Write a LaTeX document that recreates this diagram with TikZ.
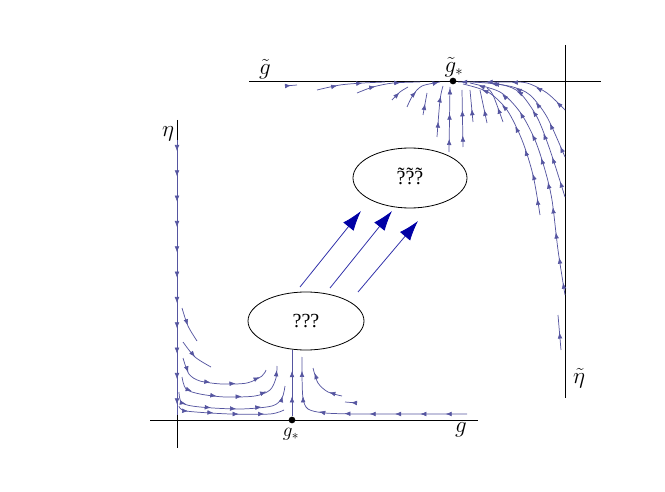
\documentclass[tikz,border=0pt]{standalone}
\usepackage{fontspec}
\setmainfont{Liberation Serif}
\usetikzlibrary{arrows.meta,decorations.markings,shapes.geometric}
\definecolor{flowc}{RGB}{85,85,160}
\definecolor{bigline}{RGB}{50,50,170}
\definecolor{bigtip}{RGB}{0,0,165}
\tikzset{
  axisline/.style={draw=black, line width=0.7pt},
  flowline/.style={draw=flowc, line width=0.55pt},
  flowarr/.style={decorate,
    decoration={markings, mark=between positions #1 and 1 step 19pt with {\arrow[flowc]{Latex[length=4.5pt,width=3.5pt]}}}},
  oval/.style={ellipse, draw=black, line width=0.6pt, fill=white, font=\fontsize{15}{17}\selectfont},
  bigarrow/.style={draw=bigline, line width=0.6pt, -{Latex[length=15pt,width=10pt,color=bigtip]}},
  lab/.style={font=\fontsize{16}{18}\selectfont, inner sep=0pt},
  slab/.style={font=\fontsize{14.5}{16}\selectfont, inner sep=0pt},
  dot/.style={circle, fill=black, inner sep=0pt, minimum size=5pt}
}
\newcommand\flowcurve[2]{\draw[flowline] plot[smooth] coordinates {#2};\path[flowarr=#1] plot coordinates {#2};}
\newcommand\tildeq{\ooalign{?\cr\hidewidth\raisebox{0.14em}{\char"02DC}\hidewidth\cr}}
\begin{document}
\begin{tikzpicture}[x=0.75pt,y=-0.75pt]
\useasboundingbox (0,0) rectangle (665,492);

% ---------- lower-left axes ----------
\coordinate (eta0) at (177,120);
\coordinate (eta1) at (177,448);
\coordinate (gl) at (150,420);
\coordinate (gr) at (478,420);
\draw[axisline] (eta0) -- (eta1);
\draw[axisline] (gl) -- (gr);
\node[dot] (gstar) at (292,420) {};
\node[lab] (etalab) at (168,134) {$\eta$};
\node[lab] (glab) at (461,430) {$g$};
\node[slab] (gstarlab) at (291,434) {$g_{*}$};

% ---------- upper-right axes ----------
\coordinate (tgl) at (249,81);
\coordinate (tgr) at (601,81);
\coordinate (teta0) at (565,45);
\coordinate (teta1) at (565,398);
\draw[axisline] (tgl) -- (tgr);
\draw[axisline] (teta0) -- (teta1);
\node[dot] (tgstar) at (453,81) {};
\node[lab] (tglab) at (265,69) {$\tilde g$};
\node[lab] (tgstarlab) at (454,67) {$\tilde g_{*}$};
\node[lab] (tetalab) at (579,378) {$\tilde\eta$};

% ---------- lower-left flows ----------
\draw[flowline] (177,140) -- (177,415);
\path[flowarr=0.04] (177,140) -- (177,415);
\flowcurve{0.5}{(182,308) (188,326) (197,341)}
\flowcurve{0.5}{(183,342) (195,357) (211,367)}
\flowcurve{0.15}{(183,358) (189,374) (200,381) (222,384) (247,383) (262,376) (266,370)}
\flowcurve{0.15}{(182,377) (186,389) (200,394) (225,397) (255,396) (270,390) (276,378) (277,366)}
\flowcurve{0.12}{(179,392) (182,403) (200,407) (240,409) (272,406) (282,398) (285,386)}
\flowcurve{0.1}{(179,406) (186,411) (230,414) (270,414) (284,410)}
\draw[flowline] (gstar) -- (292,350);
\path[flowarr=0.3] (gstar) -- (292,350);
\flowcurve{0.1}{(467,414) (420,414) (360,414) (325,413) (308,409) (303,398) (302,375) (302,357)}
\flowcurve{0.3}{(342,396) (328,392) (318,383) (313,368)}
\flowcurve{0.5}{(357,403) (345,402)}

% ---------- upper-right flows ----------
\flowcurve{0.5}{(285,86) (297,85)}
\flowcurve{0.3}{(317,90) (340,85) (363,83) (385,82)}
\flowcurve{0.3}{(357,93) (373,87) (393,83) (420,82)}
\flowcurve{0.5}{(392,100) (400,92) (408,87)}
\flowcurve{0.4}{(407,107) (413,95) (422,86) (440,82)}
\flowcurve{0.5}{(423,115) (427,93)}
\flowcurve{0.3}{(437,137) (440,100) (443,86)}
\flowcurve{0.2}{(449,152) (450,87)}
\flowcurve{0.2}{(463,147) (462,90)}
\flowcurve{0.4}{(473,122) (470,90)}
\flowcurve{0.4}{(487,123) (480,90)}
\flowcurve{0.4}{(503,122) (493,95) (487,88)}
\flowcurve{0.05}{(565,295) (558,250) (552,200) (545,170) (535,140) (520,112) (500,92) (470,83)}
\flowcurve{0.1}{(540,215) (533,175) (522,140) (507,110) (488,92) (463,84)}
\flowcurve{0.1}{(565,197) (550,150) (537,117) (520,93) (503,85) (473,82)}
\flowcurve{0.1}{(565,157) (547,117) (530,95) (513,87) (490,83)}
\flowcurve{0.1}{(565,110) (547,93) (527,83) (507,82) (458,82)}
\flowcurve{0.5}{(561,350) (558,315)}

% ---------- ellipses ----------
\node[oval, minimum width=87pt, minimum height=43.5pt] (low) at (306,321) {???};
\node[oval, minimum width=85.5pt, minimum height=45pt] (up) at (410,178) {\tildeq\tildeq\tildeq};

% ---------- big arrows ----------
\coordinate (a1s) at (300,287); \coordinate (a1e) at (361,211);
\coordinate (a2s) at (330,288); \coordinate (a2e) at (392,211);
\coordinate (a3s) at (358,292); \coordinate (a3e) at (418,221);
\draw[bigarrow] (a1s) -- (a1e);
\draw[bigarrow] (a2s) -- (a2e);
\draw[bigarrow] (a3s) -- (a3e);
\end{tikzpicture}
\end{document}
